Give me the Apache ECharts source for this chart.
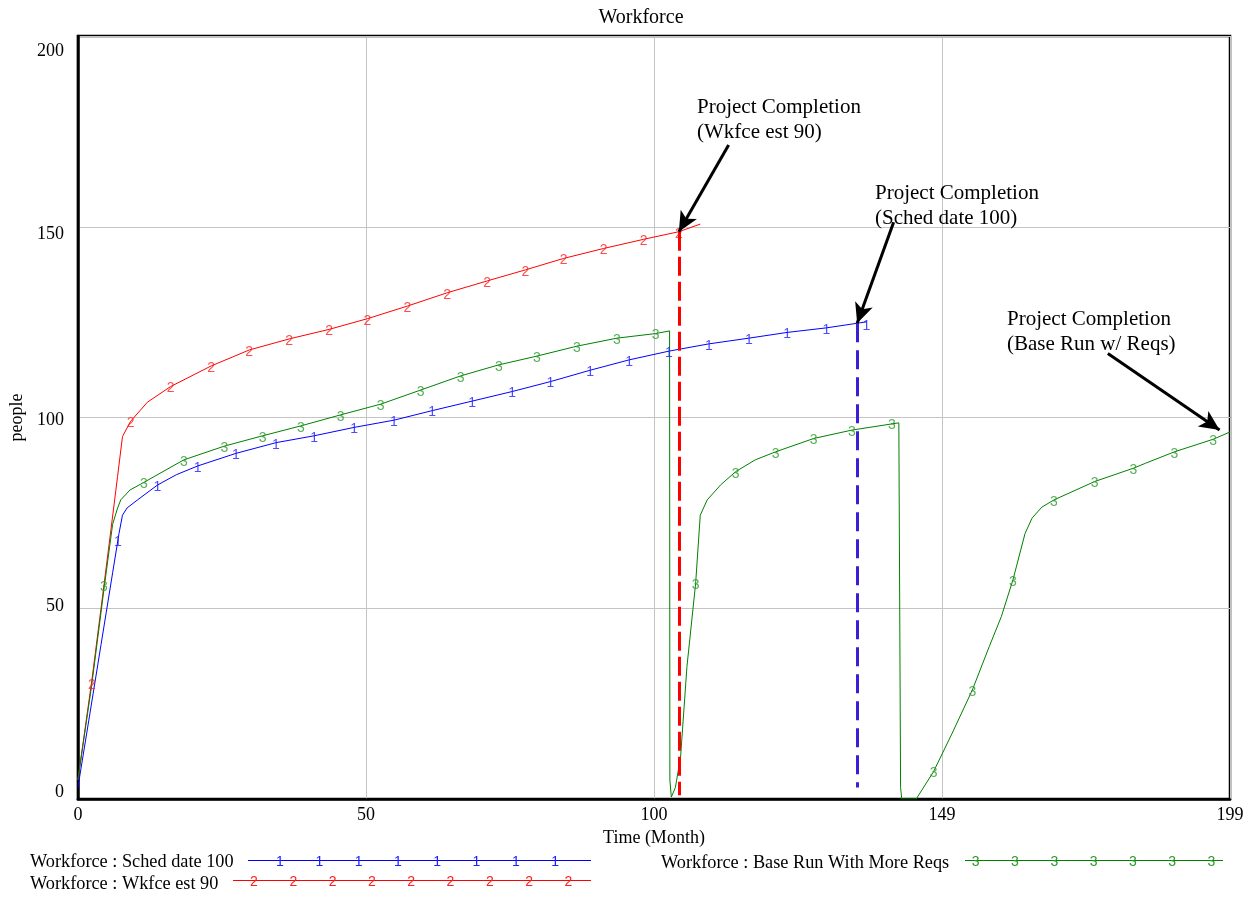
<!DOCTYPE html>
<html><head><meta charset="utf-8">
<script src="https://cdn.jsdelivr.net/npm/echarts@6/dist/echarts.min.js"></script>
<style>html,body{margin:0;padding:0;background:#fff}#c{width:1255px;height:897px}</style>
</head><body><div id="c"></div>
<script>
const chartTitle = 'Workforce';
const xName = 'Time (Month)';
const yName = 'people';
const seriesNames = ['Workforce : Sched date 100', 'Workforce : Wkfce est 90', 'Workforce : Base Run With More Reqs'];
const seriesTags = ['1', '2', '3'];
const xTickLabels = ['0', '50', '100', '149', '199'];
const yTickLabels = ['0', '50', '100', '150', '200'];

// Scenario 1: Sched date 100 (blue)
const schedDate100 = [[0,3],[2,21.7],[4,40.5],[6,59.3],[7.1,69.6],[7.7,74.4],[8.5,76.3],[10.3,78.4],[13.75,82.3],[17,85],[20.7,87.3],[27.3,90.6],[34.2,93.4],[40.8,95.2],[47.7,97.4],[54.6,99.3],[61.2,101.8],[68.1,104.3],[75,106.8],[81.6,109.4],[88.5,112.4],[95.2,115.1],[102.1,117.4],[109,119.3],[115.9,120.8],[122.5,122.3],[129.3,123.5],[134.6,124.7],[136.3,125.1]];
// Scenario 2: Wkfce est 90 (red)
const wkfceEst90 = [[0,5],[2.4,31],[4,50],[5.7,70.5],[6.85,84.5],[7.7,95],[9.1,99],[12,104],[16,108.1],[23,113.5],[29.6,117.7],[36.5,120.6],[43.4,123.1],[50,125.9],[56.9,129.2],[63.8,132.7],[70.7,135.8],[77.3,138.7],[83.9,141.7],[90.8,144.3],[97.7,146.7],[103.8,148.7],[107.5,150.7]];
// Scenario 3: Base Run With More Reqs (green)
const baseRunMoreReqs = [[0,5],[2.4,30],[4,49],[4.5,55],[6,72],[6.8,76],[7.4,78.4],[9,81],[11.4,83],[18.3,88.9],[25.3,92.5],[31.9,95.2],[38.5,97.8],[45.4,100.7],[52.3,103.5],[59.2,107.2],[66.1,110.9],[72.7,113.8],[79.3,116.1],[86.2,118.7],[93.1,120.8],[99.8,122],[102.2,122.7],[102.25,5],[102.5,0.5],[102.8,0],[103.2,3],[104.1,11],[105.2,34.7],[106.7,56.5],[107.5,74.4],[108.7,78.4],[111,82.3],[113.6,85.8],[117,88.9],[120.5,91],[127.1,94.5],[133.7,96.7],[141.8,98.6],[142.1,3],[142.3,0],[144.8,0],[147.8,7.2],[151,17.2],[154.5,28.6],[157.4,39.9],[159.5,47.8],[161.5,57.4],[163.6,69.6],[164.8,73.6],[166.5,76.5],[168.6,78.4],[175.6,83.2],[182.3,86.7],[184.4,88],[189.4,91],[196.1,94.3],[199,96.2]];

// Number tags drawn along each line
const schedMarks = [[6.9,67.9],[13.75,82.3],[20.7,87.3],[27.3,90.6],[34.2,93.4],[40.8,95.2],[47.7,97.4],[54.6,99.3],[61.2,101.8],[68.1,104.3],[75,106.8],[81.6,109.4],[88.5,112.4],[95.2,115.1],[102.1,117.4],[109,119.3],[115.9,120.8],[122.5,122.3],[129.3,123.5],[136.2,124.6]];
const wkfceMarks = [[2.4,30.5],[9.1,99],[16,108.1],[23,113.5],[29.6,117.7],[36.5,120.6],[43.4,123.1],[50,125.9],[56.9,129.2],[63.8,132.7],[70.7,135.8],[77.3,138.7],[83.9,141.7],[90.8,144.3],[97.7,146.7],[103.8,148.7]];
const baseMarks = [[4.5,56],[11.4,83],[18.3,88.9],[25.3,92.5],[31.9,95.2],[38.5,97.8],[45.4,100.7],[52.3,103.5],[59.2,107.2],[66.1,110.9],[72.7,113.8],[79.3,116.1],[86.2,118.7],[93.1,120.8],[99.8,122],[106.7,56.5],[113.6,85.8],[120.5,91],[127.1,94.5],[133.7,96.7],[140.6,98.4],[147.8,7.2],[154.5,28.6],[161.5,57.4],[168.6,78.4],[175.6,83.2],[182.3,86.7],[189.4,91],[196.1,94.3]];

// Project completion markers (time, top value, bottom value)
const completionWkfce = [103.8, 148.7, 1];
const completionSched = [134.6, 124.7, 3];
// Arrows [from, to]
const arrowWkfce = [[112.4,171.4],[103.8,148.7]];
const arrowSched = [[140.9,151.2],[134.6,124.7]];
const arrowBase = [[177.9,116.8],[197.2,96.7]];
const annotationTexts = [['Project Completion','(Wkfce est 90)'],['Project Completion','(Sched date 100)'],['Project Completion','(Base Run w/ Reqs)']];

const colors = ['#0000ff', '#ff0000', '#008000'];
const tagColors = ['#2020ff', '#ff2020', '#2a9a2a'];
const serif = '"Liberation Serif", "Times New Roman", serif';
const sans = '"Liberation Sans", Arial, sans-serif';

const chart = echarts.init(document.getElementById('c'), null, {renderer: 'canvas'});

const yOffsets = {'0': [0,0,14,0], '50': [0,0,4,0], '100': [5,0,0,0], '150': [16,0,0,0], '200': [30,0,0,0]};
const rich = {};
yTickLabels.forEach(l => { rich['p' + l] = {padding: yOffsets[l], fontFamily: serif, fontSize: 18, color: '#000'}; });

function tagSeries(data, idx) {
  return {
    type: 'scatter', data: data, symbol: 'circle', symbolSize: 1, z: 4,
    itemStyle: {color: 'rgba(0,0,0,0)'}, silent: true,
    label: {show: true, position: 'inside', offset: [0, 2], formatter: seriesTags[idx], fontFamily: sans, fontSize: 14, color: tagColors[idx]}
  };
}

const lineData = [schedDate100, wkfceEst90, baseRunMoreReqs];
const series = lineData.map((d, i) => ({
  name: seriesNames[i], type: 'line', data: d, showSymbol: false, smooth: false, z: 3,
  lineStyle: {color: colors[i], width: 1}, animation: false
}));
series.push(tagSeries(schedMarks, 0), tagSeries(wkfceMarks, 1), tagSeries(baseMarks, 2));
series.push({
  type: 'line', data: [], z: 5,
  markLine: {
    silent: true, animation: false, symbol: ['none', 'none'], label: {show: false},
    data: [
      [{coord: [completionWkfce[0], completionWkfce[1]], lineStyle: {color: '#ff0000', width: 3, type: [19, 6]}}, {coord: [completionWkfce[0], completionWkfce[2]]}],
      [{coord: [completionSched[0], completionSched[1]], lineStyle: {color: '#3a1fd8', width: 3, type: [19, 8]}}, {coord: [completionSched[0], completionSched[2]]}]
    ]
  }
});
series.push({
  type: 'line', data: [], z: 6,
  markLine: {
    silent: true, animation: false, symbol: ['none', 'arrow'], symbolSize: [14, 20], label: {show: false},
    lineStyle: {color: '#000', width: 3, type: 'solid'},
    data: [arrowWkfce, arrowSched, arrowBase].map(a => [{coord: a[0]}, {coord: a[1]}])
  }
});

// Annotation texts and legend via graphic
const graphic = [];
const annPos = [[697, 107], [875, 193], [1007, 319]];
annotationTexts.forEach((lines, i) => {
  lines.forEach((t, j) => {
    graphic.push({type: 'text', x: annPos[i][0], y: annPos[i][1] + j * 25, z: 10,
      style: {text: t, font: '21px ' + serif, fill: '#000', align: 'left', verticalAlign: 'middle'}});
  });
});
const legendLayout = [
  {tx: 30, ty: 862, lx1: 248, lx2: 591, ly: 860.5, m0: 280, n: 8},
  {tx: 30, ty: 884, lx1: 233, lx2: 591, ly: 880.5, m0: 254, n: 9},
  {tx: 661, ty: 863, lx1: 965, lx2: 1223, ly: 860.5, m0: 975.7, n: 7}
];
legendLayout.forEach((L, i) => {
  graphic.push({type: 'text', x: L.tx, y: L.ty, style: {text: seriesNames[i], font: '18.3px ' + serif, fill: '#000', align: 'left', verticalAlign: 'middle'}});
  graphic.push({type: 'line', shape: {x1: L.lx1, y1: L.ly, x2: L.lx2, y2: L.ly}, style: {stroke: colors[i], lineWidth: 1}});
  for (let k = 0; k < L.n; k++) {
    graphic.push({type: 'text', x: L.m0 + k * 39.3, y: L.ly + 2, style: {text: seriesTags[i], font: '14px ' + sans, fill: tagColors[i], align: 'center', verticalAlign: 'middle'}});
  }
});

chart.setOption({
  animation: false,
  backgroundColor: '#fff',
  title: {text: chartTitle, left: 636, top: 3, textAlign: 'center', textStyle: {fontFamily: serif, fontSize: 20, fontWeight: 'normal', color: '#000'}},
  grid: {left: 77, right: 25, top: 36, bottom: 98, show: true, borderColor: '#000', borderWidth: 2.5, backgroundColor: 'rgba(0,0,0,0)'},
  xAxis: {
    type: 'value', min: 0, max: 199, interval: 49.75,
    name: xName, nameLocation: 'middle', nameGap: 27,
    nameTextStyle: {fontFamily: serif, fontSize: 18, color: '#000'},
    axisLine: {show: true, lineStyle: {color: '#000', width: 2.5}},
    axisTick: {show: false},
    axisLabel: {margin: 7, fontFamily: serif, fontSize: 18, color: '#000', formatter: v => xTickLabels[Math.round(v / 49.75)], showMaxLabel: true, showMinLabel: true},
    splitLine: {show: true, lineStyle: {color: '#c4c4c4', width: 1}}
  },
  yAxis: {
    type: 'value', min: 0, max: 200, interval: 50,
    name: yName, nameLocation: 'middle', nameGap: 50, nameRotate: 90,
    nameTextStyle: {fontFamily: serif, fontSize: 18, color: '#000'},
    axisLine: {show: true, lineStyle: {color: '#000', width: 2.5}},
    axisTick: {show: false},
    axisLabel: {margin: 14, fontFamily: serif, fontSize: 18, color: '#000', formatter: v => '{p' + v + '|' + v + '}', rich: rich},
    splitLine: {show: true, lineStyle: {color: '#c4c4c4', width: 1}}
  },
  series: series,
  graphic: graphic
});
</script></body></html>
